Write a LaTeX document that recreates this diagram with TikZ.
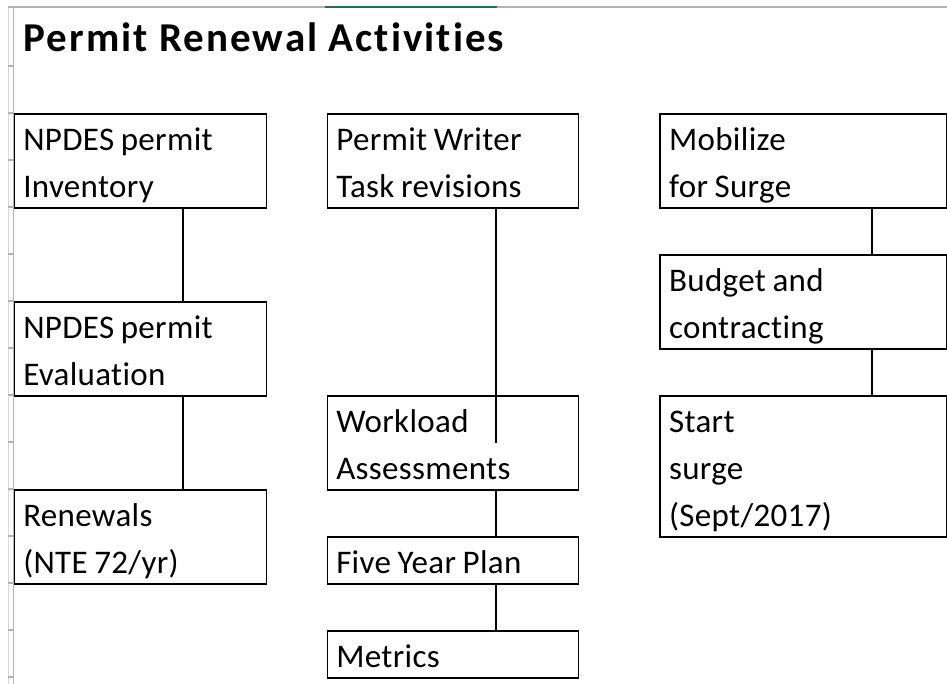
\documentclass[tikz,border=0pt]{standalone}
\usepackage{fontspec}
\setmainfont{Carlito}[Ligatures=NoCommon]
\newfontfamily\headfont{Carlito}[Ligatures=NoCommon,LetterSpace=5]
\newfontfamily\cellfont{Carlito}[Ligatures=NoCommon,LetterSpace=1]
\definecolor{sheetgreen}{HTML}{217346}
\newcommand{\rowstrut}{\rule[-10pt]{0pt}{47pt}}
\newcommand{\cellsize}{\fontsize{33}{47}\selectfont}

\begin{document}
\begin{tikzpicture}[x=1pt,y=-1pt,
	cell/.style={draw,rectangle,line width=1.6pt,anchor=north west,inner xsep=9pt,inner ysep=0pt,align=flush left,
		font=\cellfont\cellsize,execute at begin node={\spaceskip 0.2em\relax}},
	lcol/.style={cell,minimum width=252pt,text width=234pt},
	mcol/.style={cell,minimum width=251pt,text width=233pt},
	rcol/.style={cell,minimum width=287pt,text width=269pt},
	link/.style={line width=1.6pt},
	gridline/.style={draw=black!30,line width=1.2pt}]
	\useasboundingbox[fill=white] (0,0) rectangle (947,684);
	\draw[black!15,line width=1pt] (8,7) -- (8,684);
	\foreach \r in {66,113,...,677}
		\draw[gridline] (8,\r) -- (13.5,\r);
	\draw[gridline] (13.5,7) -- (13.5,684);
	\draw[gridline] (8,7) -- (947,7);
	\draw[sheetgreen,line width=2.2pt] (325,7) -- (497,7);

	\node[anchor=base west,inner sep=0pt,font=\headfont\bfseries\fontsize{41}{48}\selectfont] (title) at (23.5,52) {Permit Renewal Activities};

	\node[lcol] (inv) at (13.5,113) {\rowstrut NPDES permit\\\rowstrut Inventory};
	\node[lcol] (eval) at (13.5,301) {\rowstrut NPDES permit\\\rowstrut Evaluation};
	\node[lcol] (renew) at (13.5,489) {\rowstrut Renewals\\\rowstrut (NTE 72/yr)};
	\node[mcol] (writer) at (326.5,113) {\rowstrut Permit Writer\\\rowstrut Task revisions};
	\node[mcol] (workload) at (326.5,395) {\rowstrut Workload\\\rowstrut Assessments};
	\node[mcol] (fiveyr) at (326.5,536) {\rowstrut Five Year Plan};
	\node[mcol] (metrics) at (326.5,630) {\rowstrut Metrics};
	\node[rcol] (mobilize) at (659.3,113) {\rowstrut Mobilize\\\rowstrut for Surge};
	\node[rcol] (budget) at (659.3,254) {\rowstrut Budget and\\\rowstrut contracting};
	\node[rcol] (surge) at (659.3,395) {\rowstrut Start\\\rowstrut surge\\\rowstrut (Sept/2017)};

	\coordinate (lanea) at (182.7,0);
	\coordinate (laneb) at (495.7,0);
	\coordinate (lanec) at (872,0);
	\path (workload.north -| laneb) ++(0,47.7) coordinate (wltip);

	\draw[link] (inv.south -| lanea) -- (eval.north -| lanea);
	\draw[link] (eval.south -| lanea) -- (renew.north -| lanea);
	\draw[link] (writer.south -| laneb) -- (wltip);
	\draw[link] (workload.south -| laneb) -- (fiveyr.north -| laneb);
	\draw[link] (fiveyr.south -| laneb) -- (metrics.north -| laneb);
	\draw[link] (mobilize.south -| lanec) -- (budget.north -| lanec);
	\draw[link] (budget.south -| lanec) -- (surge.north -| lanec);
\end{tikzpicture}
\end{document}
